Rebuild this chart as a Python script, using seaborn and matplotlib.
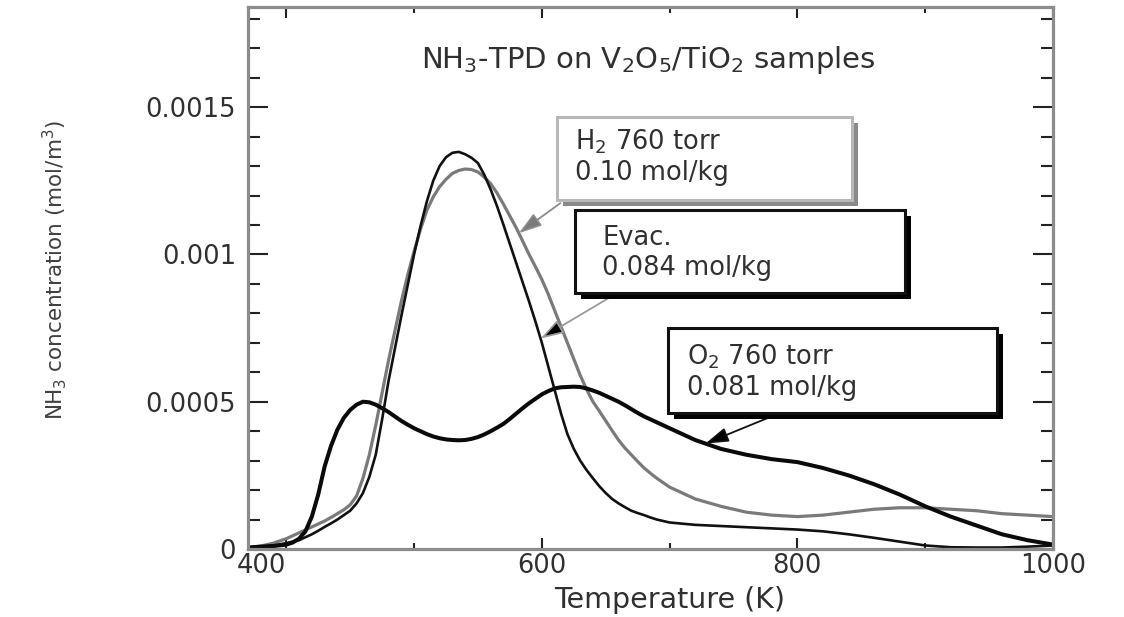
import numpy as np
import pandas as pd
import matplotlib
matplotlib.use("Agg")
import matplotlib.pyplot as plt
from matplotlib.patches import Rectangle
from matplotlib.ticker import MultipleLocator, FixedLocator, FixedFormatter
import seaborn as sns

# Temperature grid (K) shared by the three desorption traces
temperature = [370, 380, 390,
               400, 405, 410, 415, 420, 425, 430, 435, 440, 445,
               450, 455, 460, 465, 470, 475, 480, 485, 490, 495,
               500, 505, 510, 515, 520, 525, 530, 535, 540, 545,
               550, 555, 560, 565, 570, 575, 580, 585, 590, 595,
               600, 605, 610, 615, 620, 625, 630, 635, 640, 645,
               650, 655, 660, 665, 670, 675, 680, 685, 690, 695,
               700, 720, 740, 760, 780, 800, 820, 840, 860, 880,
               900, 920, 940, 960, 980, 1000]

# NH3 concentration, in units of 1e-4 mol/m3
h2_760 = [0.05, 0.10, 0.20,
          0.35, 0.45, 0.55, 0.65, 0.75, 0.85, 0.95, 1.07, 1.20, 1.33,
          1.50, 1.80, 2.40, 3.20, 4.20, 5.30, 6.40, 7.40, 8.40, 9.30,
          10.1, 10.85, 11.5, 11.95, 12.3, 12.55, 12.75, 12.85, 12.9, 12.88,
          12.8, 12.62, 12.4, 12.08, 11.7, 11.3, 10.9, 10.45, 10.0, 9.58,
          9.15, 8.65, 8.10, 7.55, 7.00, 6.45, 5.90, 5.42, 5.00, 4.68,
          4.35, 4.02, 3.70, 3.43, 3.20, 2.97, 2.75, 2.57, 2.40, 2.25,
          2.10, 1.70, 1.45, 1.25, 1.15, 1.10, 1.15, 1.25, 1.35, 1.40,
          1.40, 1.35, 1.30, 1.20, 1.15, 1.10]
evac = [0.05, 0.08, 0.12,
        0.20, 0.25, 0.30, 0.40, 0.50, 0.62, 0.75, 0.87, 1.00, 1.15,
        1.30, 1.55, 1.90, 2.45, 3.20, 4.40, 5.70, 6.80, 7.90, 8.95,
        10.0, 10.95, 11.8, 12.5, 13.0, 13.3, 13.45, 13.48, 13.4, 13.28,
        13.1, 12.7, 12.2, 11.63, 11.0, 10.35, 9.70, 9.05, 8.40, 7.72,
        7.00, 6.20, 5.40, 4.60, 3.90, 3.40, 3.00, 2.68, 2.40, 2.13,
        1.90, 1.70, 1.55, 1.42, 1.30, 1.22, 1.15, 1.07, 1.00, 0.95,
        0.90, 0.82, 0.78, 0.74, 0.70, 0.66, 0.60, 0.50, 0.38, 0.25,
        0.12, 0.06, 0.05, 0.05, 0.08, 0.12]
o2_760 = [0.05, 0.08, 0.10,
          0.15, 0.22, 0.35, 0.60, 1.10, 1.85, 2.80, 3.50, 4.05, 4.45,
          4.72, 4.90, 5.00, 4.98, 4.90, 4.78, 4.65, 4.50, 4.35, 4.22,
          4.10, 4.00, 3.90, 3.82, 3.76, 3.72, 3.70, 3.69, 3.70, 3.74,
          3.80, 3.89, 4.00, 4.12, 4.25, 4.42, 4.60, 4.78, 4.95, 5.10,
          5.25, 5.36, 5.45, 5.49, 5.50, 5.51, 5.50, 5.45, 5.38, 5.30,
          5.20, 5.10, 5.00, 4.88, 4.75, 4.62, 4.50, 4.40, 4.30, 4.20,
          4.10, 3.70, 3.40, 3.20, 3.05, 2.95, 2.75, 2.50, 2.20, 1.85,
          1.45, 1.10, 0.80, 0.50, 0.30, 0.15]

series_labels = ["H$_2$ 760 torr\n0.10 mol/kg",
                 "Evac.\n0.084 mol/kg",
                 "O$_2$ 760 torr\n0.081 mol/kg"]
x_ticks = [400, 600, 800, 1000]
x_tick_labels = ["400", "600", "800", "1000"]
y_ticks = [0, 0.0005, 0.001, 0.0015]
y_tick_labels = ["0", "0.0005", "0.001", "0.0015"]

df = pd.DataFrame({
    "T": temperature,
    "h2": np.array(h2_760) * 1e-4,
    "evac": np.array(evac) * 1e-4,
    "o2": np.array(o2_760) * 1e-4,
})

sns.set_theme(style="ticks")
plt.rcParams["font.family"] = ["DejaVu Sans"]
plt.rcParams["mathtext.fontset"] = "dejavusans"

TEXT = "#303030"
SPINE = "#8c8c8c"

fig = plt.figure(figsize=(11.24, 6.17), dpi=100)
ax = fig.add_axes([0.2206, 0.1102, 0.7162, 0.8785])

sns.lineplot(data=df, x="T", y="h2", ax=ax, color="#7a7a7a", linewidth=2.3)
sns.lineplot(data=df, x="T", y="evac", ax=ax, color="#111111", linewidth=1.9)
sns.lineplot(data=df, x="T", y="o2", ax=ax, color="#0a0a0a", linewidth=2.9)
for ln in ax.get_lines():
    ln.set_solid_joinstyle("round")

ax.set_xlim(370, 1000)
ax.set_ylim(0, 0.00184)

# axis ticks on all four sides, pointing inward
ax.xaxis.set_major_locator(FixedLocator(x_ticks))
ax.xaxis.set_major_formatter(FixedFormatter(x_tick_labels))
ax.xaxis.set_minor_locator(MultipleLocator(100))
ax.yaxis.set_major_locator(FixedLocator(y_ticks))
ax.yaxis.set_major_formatter(FixedFormatter(y_tick_labels))
ax.yaxis.set_minor_locator(MultipleLocator(0.0001))
ax.tick_params(axis="both", which="both", direction="in", top=True, right=True,
               color="#222222", width=1.5, labelcolor=TEXT)
ax.tick_params(axis="y", which="major", length=14.5, pad=8.5, labelsize=18.5)
ax.tick_params(axis="y", which="minor", length=8.5)
ax.tick_params(axis="x", which="major", length=8, pad=3, labelsize=18.5)
ax.tick_params(axis="x", which="minor", length=4.5)
ax.get_xticklabels()[0].set_horizontalalignment("right")

for sp in ax.spines.values():
    sp.set_color(SPINE)
    sp.set_linewidth(2.3)

ax.set_xlabel("Temperature (K)", fontsize=20.5, color=TEXT)
ax.xaxis.set_label_coords(0.524, -0.068)
ax.set_ylabel("NH$_3$ concentration (mol/m$^3$)", fontsize=15.5, color="#404040")
ax.yaxis.set_label_coords(-0.222, 0.515)

ax.text(0.497, 0.902, "NH$_3$-TPD on V$_2$O$_5$/TiO$_2$ samples", transform=ax.transAxes,
        ha="center", va="center", fontsize=21, color=TEXT)

# label boxes with drop shadow: (x0, y0, x1, y1) in axes fraction
dx, dy = 6 / 805, 6 / 542
box_frames = [(0.384, 0.644, 0.750, 0.797),
              (0.406, 0.472, 0.816, 0.625),
              (0.522, 0.251, 0.930, 0.408)]
box_edges = ["#b8b8b8", "#111111", "#111111"]
box_shadows = ["#8a8a8a", "#000000", "#000000"]
text_anchors = [(0.406, 0.724), (0.440, 0.546), (0.546, 0.327)]

for (x0, y0, x1, y1), edge, shadow in zip(box_frames, box_edges, box_shadows):
    ax.add_patch(Rectangle((x0 + dx, y0 - dy), x1 - x0, y1 - y0, transform=ax.transAxes,
                           facecolor=shadow, edgecolor="none", zorder=5))
    ax.add_patch(Rectangle((x0, y0), x1 - x0, y1 - y0, transform=ax.transAxes,
                           facecolor="white", edgecolor=edge, linewidth=2.2, zorder=6))
for (tx, ty), label in zip(text_anchors, series_labels):
    ax.text(tx, ty, label, transform=ax.transAxes, ha="left", va="center",
            fontsize=18.5, color=TEXT, linespacing=1.2, zorder=7)

# leader arrows from each box to its trace
arrow_targets = [(582, "h2", (0.388, 0.638), "#8a8a8a", "#7a7a7a"),
                 (599, "evac", (0.456, 0.470), "#9a9a9a", "#000000"),
                 (728, "o2", (0.661, 0.251), "#111111", "#000000")]
for t, col, (fx, fy), lc, hc in arrow_targets:
    yv = np.interp(t, df["T"], df[col])
    ax.annotate("", xy=(t, yv), xycoords="data", xytext=(fx, fy), textcoords="axes fraction",
                arrowprops=dict(arrowstyle="-|>,head_length=0.7,head_width=0.22",
                                mutation_scale=20, ec=lc, fc=hc, lw=1.3,
                                shrinkA=0, shrinkB=0), zorder=4)

fig.savefig("out.png", dpi=100, facecolor="white")
